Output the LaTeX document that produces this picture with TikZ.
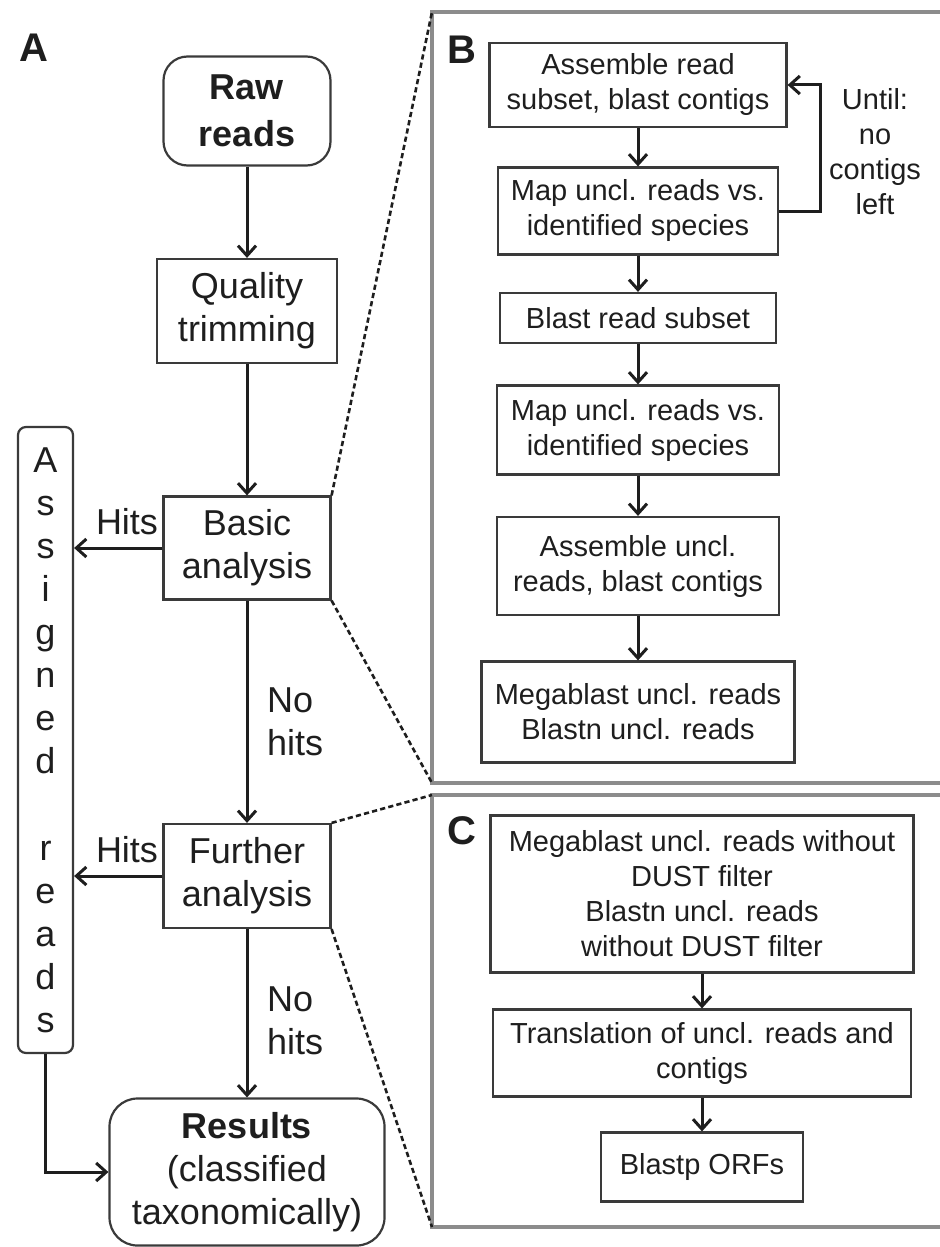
\documentclass[tikz,border=0pt]{standalone}
\usepackage{fontspec}
\setmainfont{Liberation Sans}
\usetikzlibrary{arrows.meta}
\definecolor{fText} {HTML}{1E1E1E}
\definecolor{fEdge} {HTML}{3A3A3A}
\definecolor{fPanel}{HTML}{8C8C8C}

\begin{document}
\begin{tikzpicture}[
  x=0.5pt, y=-0.5pt, text=fText,
  fa/.style={font=\fontsize{18}{21.5}\selectfont},
  fb/.style={font=\fontsize{14.5}{17.5}\selectfont},
  blk/.style={draw=fEdge, line width=1.1pt, align=center, inner sep=0pt},
  rnd/.style={blk, rounded corners=12pt},
  lbl/.style={font=\fontsize{20}{24}\selectfont\bfseries},
  ar/.style={-{Straight Barb[length=5pt,width=9pt]}, draw=fText, line width=1.5pt},
  zoomln/.style={draw=fText, dash pattern=on 2.6pt off 1.6pt, line width=1.3pt},
  pnl/.style={draw=fPanel, line width=1.6pt},
]
\useasboundingbox (0,0) rectangle (940,1247);

% ---------------------------------------------------------------- rahmen B / C
\coordinate (bTL) at (432,12);  \coordinate (bBL) at (432,783);
\coordinate (cTL) at (432,795); \coordinate (cBL) at (432,1227);
\draw[pnl] (945,12) -- (bTL) -- (bBL) -- (945,783);
\draw[pnl] (945,795) -- (cTL) -- (cBL) -- (945,1227);

% ---------------------------------------------------------------- panel A
\node[lbl] (lA) at (34,48) {A};
\node[rnd, fa, minimum width=83.5pt, minimum height=54.5pt] (raw) at (247,111)
  {\textbf{Raw}\\[2pt]\textbf{reads}};
\node[blk, fa, minimum width=90pt, minimum height=52pt] (qual) at (247,311)
  {Quality\\trimming};
\node[blk, fa, minimum width=83.5pt, minimum height=51.5pt] (basic) at (247,548)
  {Basic\\analysis};
\node[blk, fa, minimum width=83.5pt, minimum height=52pt] (further) at (247,876)
  {Further\\analysis};
\node[rnd, fa, rounded corners=14pt, minimum width=137.5pt, minimum height=73.5pt] (res) at (247,1172)
  {\textbf{Results}\\(classified\\taxonomically)};
\node[blk, fa, rounded corners=4pt, minimum width=27.5pt, minimum height=313pt] (asg) at (45.5,740)
  {A\\s\\s\\i\\g\\n\\e\\d\\[21.8pt]r\\e\\a\\d\\s};

\node[fa] (hits1) at (127,522) {Hits};
\node[fa] (hits2) at (127,850) {Hits};
\node[fa, align=left, anchor=west] (nohits1) at (260,722) {No\\hits};
\node[fa, align=left, anchor=west] (nohits2) at (260,1021) {No\\hits};

% ---------------------------------------------------------------- panel B
\node[lbl] (lB) at (462,50) {B};
\node[blk, fb, minimum width=148.5pt, minimum height=42pt] (b1) at (638,85)
  {Assemble read\\subset, blast contigs};
\node[blk, fb, minimum width=140pt, minimum height=43.5pt] (b2) at (638,211)
  {Map uncl. reads vs.\\identified species};
\node[blk, fb, minimum width=138pt, minimum height=25pt] (b3) at (638,318)
  {Blast read subset};
\node[blk, fb, minimum width=141pt, minimum height=44.5pt] (b4) at (638,430)
  {Map uncl. reads vs.\\identified species};
\node[blk, fb, minimum width=141pt, minimum height=49pt] (b5) at (638,566)
  {Assemble uncl.\\reads, blast contigs};
\node[blk, fb, minimum width=156.5pt, minimum height=50.5pt] (b6) at (638,712)
  {Megablast uncl. reads\\Blastn uncl. reads};
\node[fb, align=center] (until) at (875,152) {Until:\\no\\contigs\\left};

% ---------------------------------------------------------------- panel C
\node[lbl] (lC) at (462,831) {C};
\node[blk, fb, minimum width=211.5pt, minimum height=78.5pt] (c1) at (702,894)
  {Megablast uncl. reads without\\DUST filter\\Blastn uncl. reads\\without DUST filter};
\node[blk, fb, minimum width=209pt, minimum height=43.5pt] (c2) at (702,1053)
  {Translation of uncl. reads and\\contigs};
\node[blk, fb, minimum width=101pt, minimum height=34.5pt] (c3) at (702,1167)
  {Blastp ORFs};

% ---------------------------------------------------------------- panah
\draw[ar] (raw.south) -- (qual.north);
\draw[ar] (qual.south) -- (basic.north);
\draw[ar] (basic.south) -- (further.north);
\draw[ar] (further.south) -- (res.north);
\draw[ar] (basic.west) -- (basic.west -| asg.east);
\draw[ar] (further.west) -- (further.west -| asg.east);
\draw[ar] (asg.south) |- (res.west);

\draw[ar] (b1) -- (b2);
\draw[ar] (b2) -- (b3);
\draw[ar] (b3) -- (b4);
\draw[ar] (b4) -- (b5);
\draw[ar] (b5) -- (b6);
\draw[ar] (b2.east) -- ++(41,0) |- (b1.east);

\draw[ar] (c1) -- (c2);
\draw[ar] (c2) -- (c3);

% garis zoom
\draw[zoomln] (basic.north east) -- (bTL);
\draw[zoomln] (basic.south east) -- (bBL);
\draw[zoomln] (further.north east) -- (cTL);
\draw[zoomln] (further.south east) -- (cBL);

\end{tikzpicture}
\end{document}
